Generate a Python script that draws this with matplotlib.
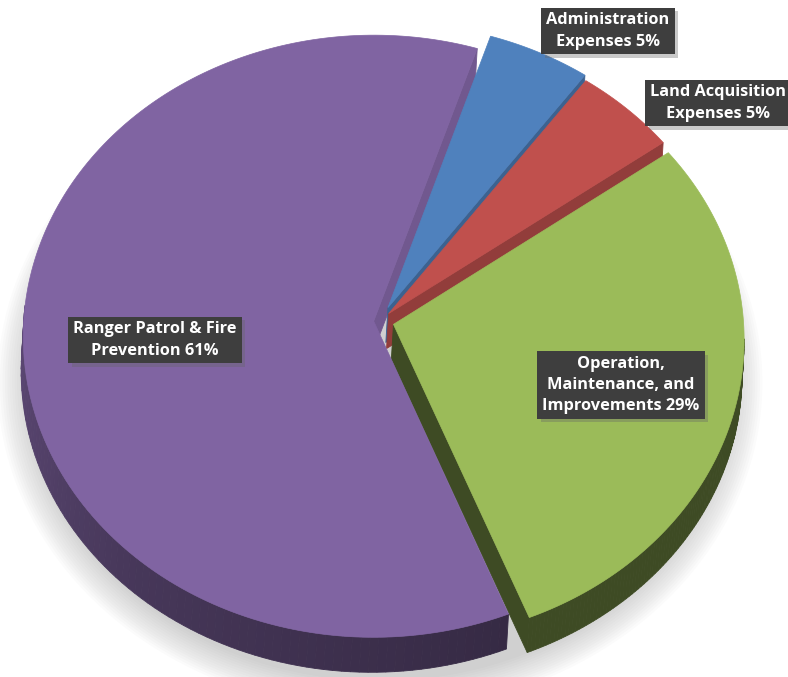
import numpy as np
import matplotlib
matplotlib.use("Agg")
import matplotlib.pyplot as plt
from matplotlib.patches import Polygon
from matplotlib.colors import to_rgb
import matplotlib.patheffects as pe

# ---------------- data ----------------
categories = ["Administration\nExpenses", "Land Acquisition\nExpenses",
              "Operation,\nMaintenance, and\nImprovements",
              "Ranger Patrol & Fire\nPrevention"]
values = [5, 5, 29, 61]

# ---------------- style ----------------
top_colors = ["#4F81BD", "#C0504D", "#9BBB59", "#8064A2"]
explode = [0.05, 0.035, 0.04, 0.018]
start_angle = 72.0
tilt = 0.858
persp = 0.05
depth = np.array([-0.006, -0.100])          # extrusion in data units
label_pos = [(608, 31), (718, 103), (621, 385), (155, 340)]  # pixel centres
W, H = 788, 677
CX, CY, R = 380, 321, 350

fig = plt.figure(figsize=(W / 100, H / 100), dpi=100)
ax = fig.add_axes([0, 0, 1, 1])
ax.set_xlim(-CX / R, (W - CX) / R)
ax.set_ylim((CY - H) / R, CY / R)
ax.axis("off")

total = float(sum(values))
spans = []
a = start_angle
for v in values:
    s = 360.0 * v / total
    spans.append((a - s, a))
    a -= s

D_unit = np.array([depth[0], depth[1] / tilt])


def shade(c, f):
    r, g, b = to_rgb(c)
    return (r * f, g * f, b * f)


def proj(u, v):
    s = 1.0 / (1.0 + persp * v)
    return np.array([u * s, tilt * v * s])


def pt(center, th, r=1.0):
    t = np.radians(th)
    return proj(center[0] + r * np.cos(t), center[1] + r * np.sin(t))


def visible(normal_deg):
    t = np.radians(normal_deg)
    return np.cos(t) * D_unit[0] + np.sin(t) * D_unit[1] > 0


centers = []
for (t1, t2), e in zip(spans, explode):
    m = np.radians((t1 + t2) / 2)
    centers.append((e * np.cos(m), e * np.sin(m)))

# ---------------- soft shadow ----------------
th = np.linspace(0, 360, 240)
for k in range(14):
    r = 1.0 + 0.007 * k
    P = np.array([proj(r * np.cos(np.radians(t)), r * np.sin(np.radians(t))) for t in th])
    ax.fill(P[:, 0] - 0.0, P[:, 1] - 0.125, color="0.55", alpha=0.03, lw=0, zorder=0)


def wall_factor(i, theta):
    if i == 3:
        tm = theta % 360
        return float(np.interp(tm, [180, 230, 292], [0.72, 0.55, 0.42]))
    if i == 2:
        return 0.40
    return 0.72


# ---------------- walls ----------------
for i in [3, 0, 1, 2]:
    t1, t2 = spans[i]
    c = centers[i]
    tip = proj(c[0], c[1])
    col = top_colors[i]
    ths = np.linspace(t1, t2, 160)
    for a0, a1 in zip(ths[:-1], ths[1:]):
        if not visible((a0 + a1) / 2):
            continue
        p0, p1 = pt(c, a0), pt(c, a1)
        fc = shade(col, wall_factor(i, (a0 + a1) / 2))
        ax.add_patch(Polygon([p0, p1, p1 + depth, p0 + depth], closed=True,
                             fc=fc, ec=fc, lw=0.6, zorder=1))
    for edge, normal in ((t1, t1 - 90), (t2, t2 + 90)):
        if not visible(normal):
            continue
        rim = pt(c, edge)
        f = 0.88 if i == 3 else (0.40 if i == 2 else 0.76)
        fc = shade(col, f)
        ax.add_patch(Polygon([tip, rim, rim + depth, tip + depth], closed=True,
                             fc=fc, ec=fc, lw=0.6, zorder=2))

# ---------------- tops ----------------
for i in [0, 1, 3, 2]:
    t1, t2 = spans[i]
    c = centers[i]
    tip = proj(c[0], c[1])
    ths = np.linspace(t1, t2, 200)
    pts = [tip] + [pt(c, t) for t in ths]
    ax.add_patch(Polygon(pts, closed=True, fc=top_colors[i], ec=top_colors[i],
                         lw=0.5, zorder=3))

# ---------------- labels ----------------
for cat, v, (px, py) in zip(categories, values, label_pos):
    txt = f"{cat} {v / total * 100:.0f}%"
    t = ax.text(px / W, 1 - py / H, txt, transform=fig.transFigure,
                ha="center", va="center", fontsize=11.8, fontweight="bold",
                family=["Open Sans", "DejaVu Sans"], linespacing=1.42,
                multialignment="center", color="white", zorder=5,
                bbox=dict(boxstyle="square,pad=0.3", fc="#3E3E3E", ec="none"))
    t.get_bbox_patch().set_path_effects(
        [pe.SimplePatchShadow(offset=(2.5, -2.5), shadow_rgbFace="0.4", alpha=0.35),
         pe.Normal()])

fig.savefig("out.png", dpi=100)
